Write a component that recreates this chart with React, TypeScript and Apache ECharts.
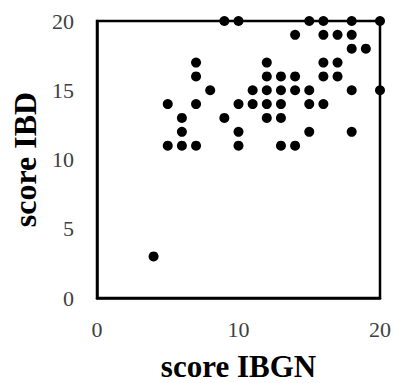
import React, { useEffect, useRef } from "react";
import * as echarts from "echarts";

const scoreIBGN = [
  9, 10, 15, 16, 18, 20,
  14, 16, 17, 18,
  18, 19,
  7, 12, 16, 17,
  7, 12, 13, 14, 16, 17,
  8, 11, 12, 13, 14, 15, 18, 20,
  5, 7, 10, 11, 12, 13, 15, 16,
  6, 9, 12, 13,
  6, 10, 15, 18,
  5, 6, 7, 10, 13, 14,
  4,
];
const scoreIBD = [
  20, 20, 20, 20, 20, 20,
  19, 19, 19, 19,
  18, 18,
  17, 17, 17, 17,
  16, 16, 16, 16, 16, 16,
  15, 15, 15, 15, 15, 15, 15, 15,
  14, 14, 14, 14, 14, 14, 14, 14,
  13, 13, 13, 13,
  12, 12, 12, 12,
  11, 11, 11, 11, 11, 11,
  3,
];
const xTicks = [0, 10, 20];
const yTicks = [0, 5, 10, 15, 20];

export default function App() {
  const ref = useRef<HTMLDivElement>(null);
  useEffect(() => {
    if (!ref.current) return;
    const chart = echarts.init(ref.current, null, { renderer: "svg" });
    const font = "'Liberation Serif', 'Times New Roman', serif";
    chart.setOption({
      animation: false,
      grid: {
        left: 97,
        right: 14,
        top: 21,
        bottom: 85,
        show: true,
        borderColor: "#000",
        borderWidth: 2.5,
        containLabel: false,
        outerBoundsMode: "none",
      },
      xAxis: {
        type: "value",
        min: 0,
        max: 20,
        interval: 10,
        name: "score IBGN",
        nameLocation: "middle",
        nameGap: 53,
        nameTextStyle: { fontFamily: font, fontWeight: "bold", fontSize: 31, lineHeight: 30, color: "#000" },
        axisLine: { show: true, lineStyle: { color: "#000", width: 2.5 } },
        axisTick: { show: false },
        splitLine: { show: false },
        axisLabel: {
          fontFamily: font,
          fontSize: 22,
          color: "#404040",
          margin: 20,
          formatter: (v: number) => (xTicks.includes(v) ? String(v) : ""),
        },
      },
      yAxis: {
        type: "value",
        min: 0,
        max: 20,
        interval: 5,
        name: "score IBD",
        nameLocation: "middle",
        nameGap: 52,
        nameTextStyle: { fontFamily: font, fontWeight: "bold", fontSize: 32, color: "#000" },
        axisLine: { show: true, lineStyle: { color: "#000", width: 2.5 } },
        axisTick: { show: false },
        splitLine: { show: false },
        axisLabel: {
          fontFamily: font,
          fontSize: 22,
          color: "#404040",
          margin: 23,
          formatter: (v: number) => (yTicks.includes(v) ? String(v) : ""),
        },
      },
      series: [
        {
          type: "scatter",
          symbol: "circle",
          symbolSize: 10,
          clip: false,
          itemStyle: { color: "#000", opacity: 1 },
          data: scoreIBGN.map((x, i) => [x, scoreIBD[i]]),
        },
      ],
    });
    return () => chart.dispose();
  }, []);
  return <div ref={ref} style={{ width: 394, height: 383, position: "absolute", left: 0, top: 0 }} />;
}
